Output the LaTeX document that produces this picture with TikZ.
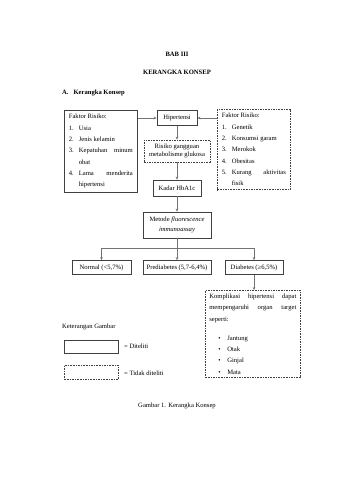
\documentclass[tikz,border=0pt]{standalone}
\usepackage{fontspec}
\setmainfont{Liberation Serif}
\usetikzlibrary{arrows.meta}

\newcommand{\pagefont}{\fontsize{6.6}{11.3}\selectfont}
\newcommand{\listitem}[2]{\par\hangindent=10pt\hangafter=1\noindent\hbox to 10pt{#1\hfil}#2\par}
\newcommand{\dotitem}[1]{\par\noindent\hspace*{9pt}\hbox to 9pt{\textbullet\hfil}#1\par}

\begin{document}
\begin{tikzpicture}[
    x=1pt, y=-1pt,
    >={Stealth[length=3pt,width=2.6pt]},
    every node/.style={font=\pagefont, inner sep=0pt},
    solidbox/.style={rectangle, draw=black!75, line width=0.7pt, inner sep=2.5pt},
    dashbox/.style={rectangle, draw=black!75, line width=0.7pt, inner sep=2.5pt,
                    dash pattern=on 1.6pt off 1pt},
    listbox/.style={anchor=north west, text width=64pt, align=justify,
                    inner xsep=4.5pt, inner ysep=4pt},
    arr/.style={->, line width=0.6pt, black!55},
    link/.style={line width=0.6pt, black!55},
]
  \useasboundingbox[fill=white] (0,0) rectangle (339,480);

  % Headings
  \node[font=\pagefont\bfseries] (bab) at (177,54) {BAB III};
  \node[font=\pagefont\bfseries] (judul) at (177,72) {KERANGKA KONSEP};
  \node[font=\pagefont\bfseries, anchor=west] (subjudul) at (62,93) {A.\hspace{5pt}Kerangka Konsep};

  % Risk factors
  \node[solidbox, listbox] (lfaktor) at (64,110) {%
    Faktor Risiko:
    \listitem{1.}{Usia}
    \listitem{2.}{Jenis kelamin}
    \listitem{3.}{Kepatuhan minum obat}
    \listitem{4.}{Lama menderita hipertensi}};
  \node[dashbox, listbox] (rfaktor) at (217,109) {%
    Faktor Risiko:
    \listitem{1.}{Genetik}
    \listitem{2.}{Konsumsi garam}
    \listitem{3.}{Merokok}
    \listitem{4.}{Obesitas}
    \listitem{5.}{Kurang aktivitas fisik}};

  % Main chain
  \node[solidbox, minimum width=40pt, minimum height=15pt] (hipertensi) at (177,118) {Hipertensi};
  \node[dashbox, align=center, minimum width=66pt, minimum height=22pt] (risiko) at (177,151)
    {Risiko gangguan\\[-3pt]metabolisme glukosa};
  \node[solidbox, minimum width=48pt, minimum height=16pt] (hba) at (177,188) {Kadar HbA1c};
  \node[solidbox, align=center, minimum width=68pt, minimum height=26pt] (metode) at (177,225)
    {Metode \textit{fluorescence}\\[-2pt]\textit{immunoassay}};
  \coordinate (cabang) at (177,248);

  % Outcomes
  \node[solidbox, minimum width=59pt, minimum height=14pt] (normal) at (101.5,267.5) {Normal (<5,7\%)};
  \node[solidbox, minimum width=68pt, minimum height=14pt] (pre) at (177,267.5) {Prediabetes (5,7-6,4\%)};
  \node[solidbox, minimum width=58pt, minimum height=14pt] (diabetes) at (254,267.5) {Diabetes (≥6,5\%)};
  \node[dashbox, anchor=north west, text width=87pt, align=justify,
        inner xsep=4pt, inner ysep=3.5pt] (komplikasi) at (205,290) {%
    Komplikasi hipertensi dapat mempengaruhi organ target seperti:\par\vspace{8pt}
    \dotitem{Jantung}
    \dotitem{Otak}
    \dotitem{Ginjal}
    \dotitem{Mata}};

  % Connectors
  \draw[arr] (lfaktor.east |- hipertensi) -- (hipertensi.west);
  \draw[arr] (rfaktor.west |- hipertensi) -- (hipertensi.east);
  \draw[arr] (hipertensi) -- (risiko);
  \draw[arr] (risiko) -- (hba);
  \draw[arr] (hba) -- (metode);
  \draw[link] (metode.south) -- (cabang);
  \draw[link] (normal.north |- cabang) -- (diabetes.north |- cabang);
  \draw[arr] (normal.north |- cabang) -- (normal.north);
  \draw[arr] (cabang) -- (pre.north);
  \draw[arr] (diabetes.north |- cabang) -- (diabetes.north);
  \draw[arr] (diabetes.south) -- (diabetes.south |- komplikasi.north);

  % Legend
  \node[anchor=west] (keterangan) at (62,327) {Keterangan Gambar};
  \node[solidbox, minimum width=54pt, minimum height=13pt, anchor=north west] (ltel) at (64,340) {};
  \node[anchor=west] (ltelteks) at (124,346) {= Diteliti};
  \node[dashbox, minimum width=54pt, minimum height=14pt, anchor=north west] (ltidak) at (64,365) {};
  \node[anchor=west] (ltidakteks) at (124,373) {= Tidak diteliti};

  % Caption
  \node (caption) at (177,406) {Gambar 1. Kerangka Konsep};
\end{tikzpicture}
\end{document}
